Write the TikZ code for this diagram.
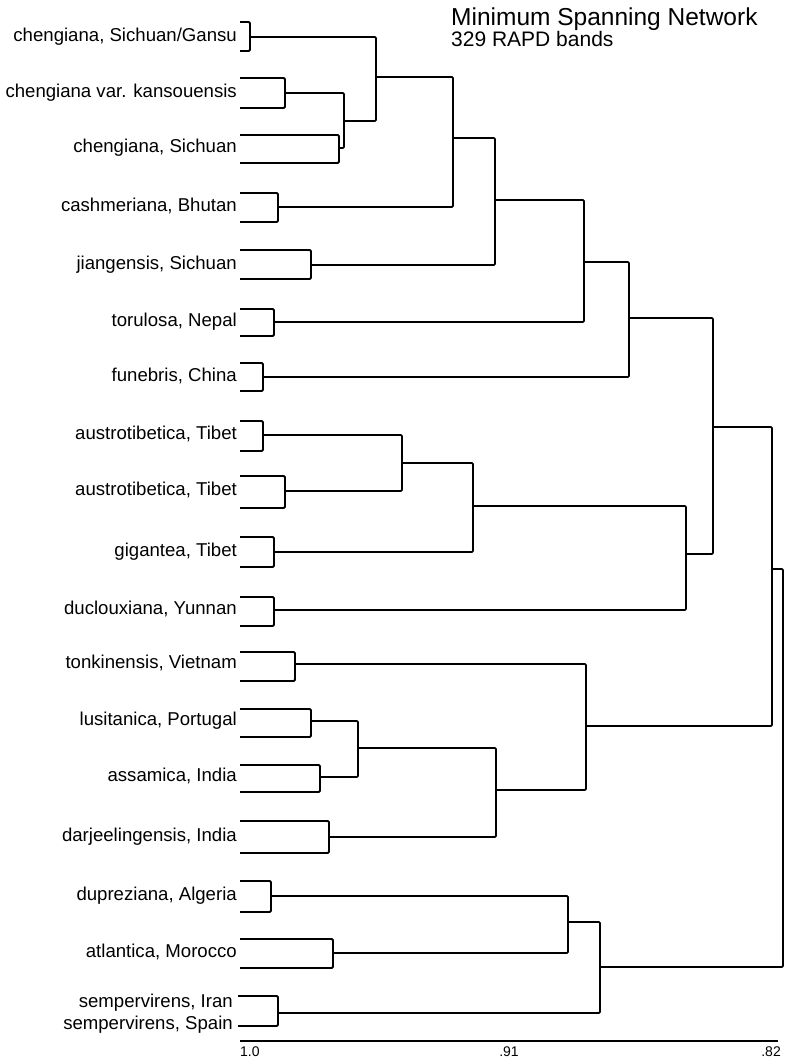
\documentclass[tikz,border=0pt]{standalone}
\usepackage{fontspec}
\setmainfont{Liberation Sans}
\newcommand\labfont{\fontsize{18.6}{22}\selectfont}
\newcommand\myleaf[6]{%
  \coordinate (#1) at (#4,#5);
  \draw[br] (240,#2) -| (#4,#3) -- (240,#3);
  \node[lab] (#1t) at (237,#5+4.5) {#6};
}
\newcommand\myjoin[3]{% child1, child2, parent
  \draw[ln] (#1) -| (#2 -| #3) -- (#2);
}
\begin{document}
\begin{tikzpicture}[x=1pt,y=-1pt,
  br/.style={line width=1.9pt, rounded corners=1.2pt},
  ln/.style={line width=1.7pt, rounded corners=1.2pt},
  lab/.style={anchor=base east, inner sep=0pt, font=\labfont},
  axlab/.style={anchor=base, inner sep=0pt, font=\fontsize{14}{16}\selectfont}]
\useasboundingbox (0,0) rectangle (786,1059);

% title
\node[anchor=base west, inner sep=0pt, font=\fontsize{24.5}{28}\selectfont] (title) at (451,25.5) {Minimum Spanning Network};
\node[anchor=base west, inner sep=0pt, font=\fontsize{21}{24}\selectfont] (sub) at (451,47) {329 RAPD bands};

% leaves
\myleaf{L1}{22}{51}{250}{37}{chengiana, Sichuan/Gansu}
\myleaf{L2}{78}{108}{285}{93}{chengiana var. kansouensis}
\myleaf{L3}{135}{163}{339}{148}{chengiana, Sichuan}
\myleaf{L4}{193}{222}{278}{207}{cashmeriana, Bhutan}
\myleaf{L5}{250}{279}{311}{265}{jiangensis, Sichuan}
\myleaf{L6}{309}{336}{274}{322}{torulosa, Nepal}
\myleaf{L7}{363}{391}{263}{377}{funebris, China}
\myleaf{L8}{421}{451}{263}{435}{austrotibetica, Tibet}
\myleaf{L9}{476}{508}{285}{491}{austrotibetica, Tibet}
\myleaf{L10}{537}{567}{274}{552}{gigantea, Tibet}
\myleaf{L11}{597}{626}{274}{610}{duclouxiana, Yunnan}
\myleaf{L12}{652}{681}{295}{664}{tonkinensis, Vietnam}
\myleaf{L13}{709}{737}{311}{721}{lusitanica, Portugal}
\myleaf{L14}{765}{792}{320}{777}{assamica, India}
\myleaf{L15}{821}{853}{329}{837}{darjeelingensis, India}
\myleaf{L16}{881}{912}{271}{896}{dupreziana, Algeria}
\myleaf{L17}{939}{968}{333}{953}{atlantica, Morocco}
% sempervirens (two labels)
\coordinate (L18) at (278,1013);
\draw[br] (238,996) -| (278,1026) -- (238,1026);
\node[lab] (L18a) at (233,1007) {sempervirens, Iran};
\node[lab] (L18b) at (233,1029) {sempervirens, Spain};

% internal nodes
\coordinate (Na) at (344,121);
\coordinate (Nb) at (376,77);
\coordinate (Nc) at (453,138);
\coordinate (Nd) at (495,200);
\coordinate (Ne) at (584,262);
\coordinate (Nf) at (629,318);
\coordinate (Ng) at (402,463);
\coordinate (Nh) at (473,506);
\coordinate (Ni) at (686,554);
\coordinate (Nj) at (713,427);
\coordinate (Nk) at (358,748);
\coordinate (Nl) at (496,790);
\coordinate (Nm) at (586,726);
\coordinate (Nn) at (772,569);
\coordinate (No) at (568,922);
\coordinate (Np) at (600,967);
\coordinate (Nq) at (783,767);

\myjoin{L2}{L3}{Na}
\myjoin{L1}{Na}{Nb}
\myjoin{Nb}{L4}{Nc}
\myjoin{Nc}{L5}{Nd}
\myjoin{Nd}{L6}{Ne}
\myjoin{Ne}{L7}{Nf}
\myjoin{L8}{L9}{Ng}
\myjoin{Ng}{L10}{Nh}
\myjoin{Nh}{L11}{Ni}
\myjoin{Nf}{Ni}{Nj}
\myjoin{L13}{L14}{Nk}
\myjoin{Nk}{L15}{Nl}
\myjoin{L12}{Nl}{Nm}
\myjoin{Nj}{Nm}{Nn}
\myjoin{L16}{L17}{No}
\myjoin{No}{L18}{Np}
\myjoin{Nn}{Np}{Nq}

% axis
\coordinate (ax0) at (240,1041);
\coordinate (ax1) at (778,1041);
\draw[line width=1.3pt] (ax0) -- (ax1);
\node[axlab, anchor=base west] (a10) at (240,1056) {1.0};
\node[axlab] (a91) at (509,1056) {.91};
\node[axlab, anchor=base east] (a82) at (781,1056) {.82};
\end{tikzpicture}
\end{document}
